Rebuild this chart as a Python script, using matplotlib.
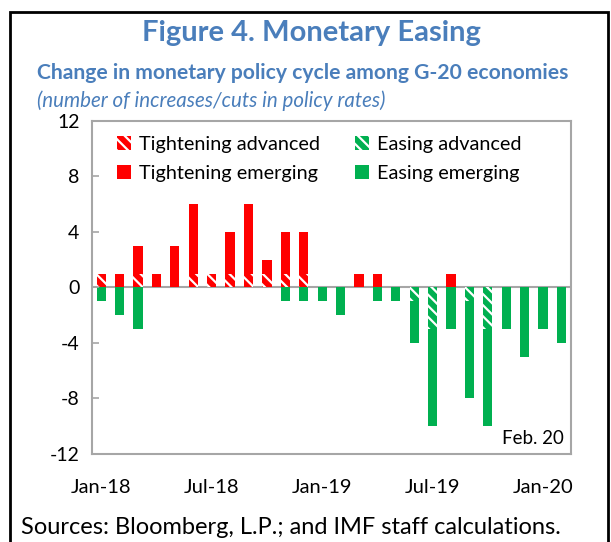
import numpy as np
import matplotlib
matplotlib.use('Agg')
from matplotlib import pyplot as plt
from matplotlib.patches import Rectangle, Patch

plt.rcParams['font.family'] = ['Lato', 'DejaVu Sans']
plt.rcParams['hatch.linewidth'] = 1.6

# monthly data, Jan-18 .. Feb-20
months = ['Jan-18', 'Feb-18', 'Mar-18', 'Apr-18', 'May-18', 'Jun-18', 'Jul-18', 'Aug-18',
          'Sep-18', 'Oct-18', 'Nov-18', 'Dec-18', 'Jan-19', 'Feb-19', 'Mar-19', 'Apr-19',
          'May-19', 'Jun-19', 'Jul-19', 'Aug-19', 'Sep-19', 'Oct-19', 'Nov-19', 'Dec-19',
          'Jan-20', 'Feb-20']
tight_adv = [1, 0, 1, 0, 0, 1, 1, 1, 1, 1, 1, 1, 0, 0, 0, 0, 0, 0, 0, 0, 0, 0, 0, 0, 0, 0]
tight_em  = [0, 1, 2, 1, 3, 5, 0, 3, 5, 1, 3, 3, 0, 0, 1, 1, 0, 0, 0, 1, 0, 0, 0, 0, 0, 0]
ease_adv  = [0, 0, 0, 0, 0, 0, 0, 0, 0, 0, 0, 0, 0, 0, 0, 0, 0, 1, 3, 0, 1, 3, 0, 0, 0, 0]
ease_em   = [1, 2, 3, 0, 0, 0, 0, 0, 0, 0, 1, 1, 1, 2, 0, 1, 1, 3, 7, 3, 7, 7, 3, 5, 3, 4]

xtick_labels = ['Jan-18', 'Jul-18', 'Jan-19', 'Jul-19', 'Jan-20']
yticks = [12, 8, 4, 0, -4, -8, -12]

RED = '#FF0000'
GREEN = '#00B050'
BLUE = '#4A7EBB'

x = np.arange(len(months))
ta = np.array(tight_adv)
te = np.array(tight_em)
ea = -np.array(ease_adv)
ee = -np.array(ease_em)

fig = plt.figure(figsize=(6.11, 5.42), dpi=100)
ax = fig.add_axes([0.1506, 0.1624, 0.7834, 0.6144])

w = 0.5
ax.bar(x, ta, w, color=RED, edgecolor='white', hatch='\\\\\\', linewidth=0)
ax.bar(x, te, w, bottom=ta, color=RED, linewidth=0)
ax.bar(x, ea, w, color=GREEN, edgecolor='white', hatch='\\\\\\', linewidth=0)
ax.bar(x, ee, w, bottom=ea, color=GREEN, linewidth=0)

ax.axhline(0, color='#A6A6A6', lw=1.5, zorder=0)
ax.set_xlim(-0.5, 25.5)
ax.set_ylim(-12, 12)
ax.set_yticks(yticks)
ax.set_yticklabels([str(v) for v in yticks], fontsize=14)
ax.set_xticks([months.index(m) for m in xtick_labels])
ax.set_xticklabels(xtick_labels, fontsize=14.5)
ax.tick_params(axis='x', length=0, pad=18)
ax.tick_params(axis='y', direction='in', length=5, width=1.2, color='#A6A6A6', pad=9)
for s in ax.spines.values():
    s.set_color('#A6A6A6')
    s.set_linewidth(1.5)

ax.text(0.985, 0.02, 'Feb. 20', transform=ax.transAxes, ha='right', va='bottom', fontsize=13.5)

handles = [Patch(facecolor=RED, edgecolor='white', hatch='\\\\\\', lw=0, label='Tightening advanced'),
           Patch(facecolor=RED, lw=0, label='Tightening emerging'),
           Patch(facecolor=GREEN, edgecolor='white', hatch='\\\\\\', lw=0, label='Easing advanced'),
           Patch(facecolor=GREEN, lw=0, label='Easing emerging')]
ax.legend(handles=handles, ncol=2, loc='upper left', bbox_to_anchor=(0.035, 0.98),
          frameon=False, fontsize=14.3, handlelength=0.7, handleheight=0.7,
          handletextpad=0.4, columnspacing=1.8, labelspacing=0.62, borderaxespad=0)

fig.text(0.51, 0.94, 'Figure 4. Monetary Easing', ha='center', va='center',
         fontsize=21, fontweight='bold', color=BLUE)
fig.text(0.06, 0.866, 'Change in monetary policy cycle among G-20 economies', ha='left',
         va='center', fontsize=15.2, fontweight='bold', color=BLUE)
fig.text(0.06, 0.815, '(number of increases/cuts in policy rates)', ha='left',
         va='center', fontsize=14.8, style='italic', color=BLUE)
fig.text(0.035, 0.027, 'Sources: Bloomberg, L.P.; and IMF staff calculations.', ha='left',
         va='center', fontsize=17)

fig.patches.append(Rectangle((10 / 611, -0.05), 598 / 611, 1.05 - 12 / 542, transform=fig.transFigure,
                             fill=False, edgecolor='black', lw=2, clip_on=False))

fig.savefig('out.png', dpi=100)
